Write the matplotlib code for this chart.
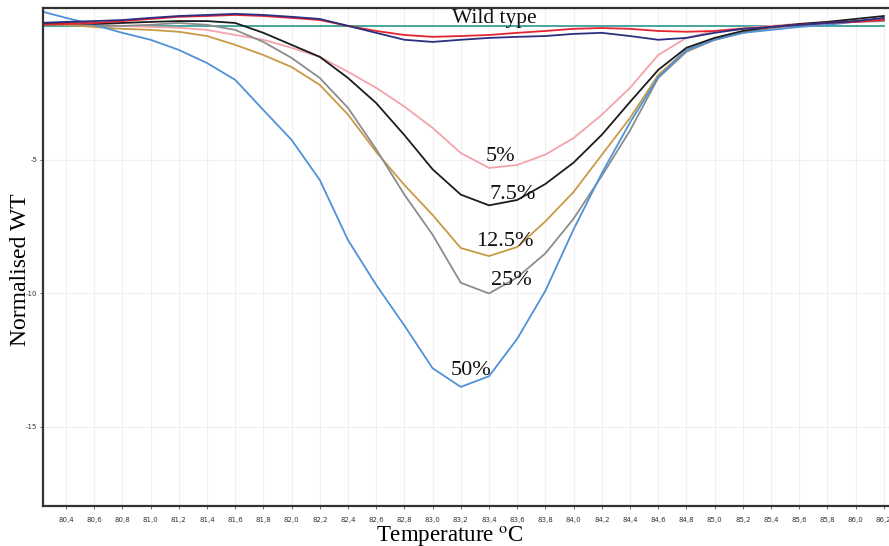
import matplotlib
matplotlib.use("Agg")
import matplotlib.pyplot as plt
import numpy as np

plt.rcParams['mathtext.fontset'] = 'stix'

temps = [80.2, 80.4, 80.6, 80.8, 81.0, 81.2, 81.4, 81.6, 81.8, 82.0,
         82.2, 82.4, 82.6, 82.8, 83.0, 83.2, 83.4, 83.6, 83.8, 84.0,
         84.2, 84.4, 84.6, 84.8, 85.0, 85.2, 85.4, 85.6, 85.8, 86.0, 86.2]

wild_type = [0.0] * len(temps)
red = [0.06, 0.09, 0.13, 0.20, 0.28, 0.36, 0.39, 0.43, 0.39, 0.32,
       0.24, 0.02, -0.17, -0.32, -0.39, -0.36, -0.32, -0.24, -0.17, -0.09,
       -0.06, -0.09, -0.17, -0.20, -0.17, -0.09, -0.02, 0.06, 0.13, 0.17, 0.24]
navy = [0.13, 0.17, 0.20, 0.24, 0.32, 0.39, 0.43, 0.47, 0.43, 0.36,
        0.28, 0.02, -0.24, -0.50, -0.58, -0.50, -0.43, -0.39, -0.36, -0.28,
        -0.24, -0.36, -0.50, -0.43, -0.24, -0.09, -0.02, 0.06, 0.13, 0.20, 0.32]
pct5 = [0.10, 0.10, 0.05, 0.02, -0.02, -0.05, -0.13, -0.32, -0.50, -0.80,
        -1.14, -1.70, -2.30, -3.00, -3.80, -4.74, -5.30, -5.19, -4.80, -4.18,
        -3.31, -2.30, -1.07, -0.43, -0.17, -0.06, 0.02, 0.10, 0.17, 0.20, 0.24]
pct7_5 = [0.13, 0.13, 0.10, 0.13, 0.17, 0.20, 0.20, 0.13, -0.24, -0.69,
          -1.14, -1.93, -2.87, -4.07, -5.35, -6.30, -6.70, -6.50, -5.90, -5.10,
          -4.06, -2.83, -1.63, -0.80, -0.43, -0.17, -0.02, 0.09, 0.17, 0.28, 0.39]
pct12_5 = [0.10, 0.06, -0.02, -0.09, -0.13, -0.20, -0.36, -0.69, -1.07, -1.52,
           -2.19, -3.30, -4.70, -5.94, -7.06, -8.30, -8.60, -8.26, -7.30, -6.20,
           -4.81, -3.43, -1.82, -0.88, -0.50, -0.24, -0.06, 0.06, 0.13, 0.20, 0.28]
pct25 = [0.06, 0.10, 0.06, 0.02, 0.06, 0.13, 0.06, -0.13, -0.58, -1.18,
         -1.93, -3.05, -4.60, -6.30, -7.80, -9.60, -10.0, -9.40, -8.50, -7.20,
         -5.60, -3.90, -1.93, -0.95, -0.50, -0.24, -0.06, 0.06, 0.13, 0.17, 0.20]
pct50 = [0.60, 0.32, 0.06, -0.24, -0.50, -0.88, -1.37, -2.00, -3.13, -4.25,
         -5.75, -8.00, -9.68, -11.2, -12.8, -13.5, -13.1, -11.7, -9.90, -7.60,
         -5.50, -3.60, -1.90, -0.88, -0.50, -0.24, -0.13, -0.02, 0.06, 0.17, 0.28]

series = [
    (wild_type, '#3a9f98'),
    (pct5, '#f3a3aa'),
    (pct12_5, '#c99a45'),
    (pct25, '#8c8c8c'),
    (pct50, '#4f92d8'),
    (pct7_5, '#1c1c1c'),
    (red, '#e42530'),
    (navy, '#2c2f80'),
]

labels = ['Wild type', '5%', '7.5%', '12.5%', '25%', '50%']
label_pos = [(83.44, 0.30), (83.48, -4.89), (83.57, -6.31),
             (83.51, -8.07), (83.56, -9.53), (83.27, -12.9)]
label_size = [15.5, 16, 16, 16, 16, 16]

xticks = np.round(np.arange(80.4, 86.21, 0.2), 1)

fig = plt.figure(figsize=(8.89, 5.46), dpi=100)
ax = fig.add_axes([43 / 889, 1 - 506 / 546, 1 - 43 / 889, (506 - 8) / 546])

for vals, col in series:
    ax.plot(temps, vals, color=col, lw=1.3)

for txt, (x, y), fs in zip(labels, label_pos, label_size):
    ax.text(x, y, txt, ha='center', va='center', fontsize=fs,
            family='Liberation Serif', color='#111111')

ax.set_xlim(80.237, 86.237)
ax.set_ylim(-17.96, 0.69)
ax.set_xticks(xticks)
ax.set_xticklabels([('%.1f' % t).replace('.', ',') for t in xticks])
ax.set_yticks([-5, -10, -15])
ax.set_yticklabels(['-5', '-10', '-15'])
ax.tick_params(labelsize=5, colors='#333333', length=2, width=0.5)
ax.tick_params(axis='x', pad=6)
ax.tick_params(axis='y', pad=2)
ax.grid(True, color='#f0f0f0', lw=0.8)
ax.set_axisbelow(True)

for s in ['left', 'bottom', 'top']:
    ax.spines[s].set_linewidth(1.6)
    ax.spines[s].set_color('#333333')
ax.spines['right'].set_visible(False)

ax.set_ylabel('Normalised WT', fontsize=17, family='Liberation Serif')
ax.yaxis.set_label_coords(-0.014, 0.474)
ax.set_xlabel(r'Temperature $^{\rm o}$C', fontsize=16.5, family='Liberation Serif')
ax.xaxis.set_label_coords((450 - 43) / 846, -0.036)

fig.savefig('out.png', dpi=100)
